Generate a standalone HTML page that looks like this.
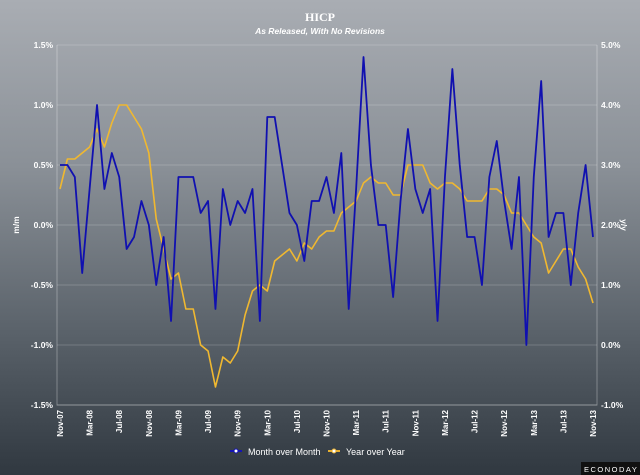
<!DOCTYPE html>
<html><head><meta charset="utf-8"><style>
html,body{margin:0;padding:0;width:640px;height:475px;overflow:hidden}
body{background:linear-gradient(#a9adb3 0%,#8a9097 35%,#5a626a 70%,#303840 100%);font-family:"Liberation Sans",sans-serif}
svg{position:absolute;left:0;top:0}
</style></head><body>
<svg id="chart" width="640" height="475">
<text x="320" y="21" text-anchor="middle" fill="#fff" font-family="Liberation Serif,serif" font-weight="bold" font-size="12">HICP</text>
<text x="320" y="34" text-anchor="middle" fill="#fff" font-weight="bold" font-style="italic" font-size="8.5">As Released, With No Revisions</text>
<g id="grid"></g><g id="axes"></g><g id="series"></g>
<text transform="translate(19,225) rotate(-90)" text-anchor="middle" fill="#fff" font-weight="bold" font-size="8.5">m/m</text>
<text transform="translate(621,225) rotate(90)" text-anchor="middle" fill="#fff" font-weight="bold" font-size="8.5">y/y</text>
<g>
<g><line x1="230" y1="451" x2="242" y2="451" stroke="#1414b4" stroke-width="2"/><circle cx="236" cy="451" r="2" fill="#fff" stroke="#1414b4"/><text x="248" y="455" fill="#fff" font-size="9">Month over Month</text></g>
<g><line x1="328" y1="451" x2="340" y2="451" stroke="#e8b030" stroke-width="2"/><circle cx="334" cy="451" r="2" fill="#fff" stroke="#e8b030"/><text x="346" y="455" fill="#fff" font-size="9">Year over Year</text></g>
</g>
<rect x="581" y="462" width="59" height="13" fill="#111"/>
<text x="584" y="472" fill="#fff" font-size="7.5" letter-spacing="1.5">ECONODAY</text>
</svg>
<script>
const mom=[0.5,0.5,0.4,-0.4,0.3,1.0,0.3,0.6,0.4,-0.2,-0.1,0.2,0.0,-0.5,-0.1,-0.8,0.4,0.4,0.4,0.1,0.2,-0.7,0.3,0.0,0.2,0.1,0.3,-0.8,0.9,0.9,0.5,0.1,0.0,-0.3,0.2,0.2,0.4,0.1,0.6,-0.7,0.3,1.4,0.5,0.0,0.0,-0.6,0.2,0.8,0.3,0.1,0.3,-0.8,0.4,1.3,0.5,-0.1,-0.1,-0.5,0.4,0.7,0.2,-0.2,0.4,-1.0,0.4,1.2,-0.1,0.1,0.1,-0.5,0.1,0.5,-0.1];
const yoy=[2.6,3.1,3.1,3.2,3.3,3.6,3.3,3.7,4.0,4.0,3.8,3.6,3.2,2.1,1.6,1.1,1.2,0.6,0.6,0.0,-0.1,-0.7,-0.2,-0.3,-0.1,0.5,0.9,1.0,0.9,1.4,1.5,1.6,1.4,1.7,1.6,1.8,1.9,1.9,2.2,2.3,2.4,2.7,2.8,2.7,2.7,2.5,2.5,3.0,3.0,3.0,2.7,2.6,2.7,2.7,2.6,2.4,2.4,2.4,2.6,2.6,2.5,2.2,2.2,2.0,1.8,1.7,1.2,1.4,1.6,1.6,1.3,1.1,0.7];
const xLabels=["Nov-07","Mar-08","Jul-08","Nov-08","Mar-09","Jul-09","Nov-09","Mar-10","Jul-10","Nov-10","Mar-11","Jul-11","Nov-11","Mar-12","Jul-12","Nov-12","Mar-13","Jul-13","Nov-13"];
const leftTicks=[1.5,1.0,0.5,0.0,-0.5,-1.0,-1.5];
const rightTicks=[5.0,4.0,3.0,2.0,1.0,0.0,-1.0];
const NS="http://www.w3.org/2000/svg";
const L=57,R=597,T=45,B=405;
const x=i=>60+i*(593-60)/72;
const yl=v=>T+(1.5-v)*(B-T)/3;
const yr=v=>T+(5-v)*(B-T)/6;
function mk(tag,attrs,parent){const e=document.createElementNS(NS,tag);for(const k in attrs)e.setAttribute(k,attrs[k]);parent.appendChild(e);return e;}
const grid=document.getElementById('grid'),axes=document.getElementById('axes'),series=document.getElementById('series');
leftTicks.forEach(v=>{
  const g=mk('line',{x1:L,x2:R,y1:yl(v),y2:yl(v),stroke:'rgba(255,255,255,0.18)','stroke-width':1},grid);
  
  
  const t=mk('text',{x:L-4,y:yl(v)+3,'text-anchor':'end',fill:'#fff','font-size':8.5,'font-weight':'bold'},axes);
  t.textContent=v.toFixed(1)+'%';
  
  
});
rightTicks.forEach(v=>{
  const t=mk('text',{x:R+4,y:yr(v)+3,fill:'#fff','font-size':8.5,'font-weight':'bold'},axes);
  t.textContent=v.toFixed(1)+'%';
  
  
});
const ax=mk('path',{d:`M${L},${T}V${B}H${R}V${T}`,fill:'none',stroke:'rgba(255,255,255,0.3)'},axes);


xLabels.forEach((lab,k)=>{
  const xx=x(k*4)+3;
  const t=mk('text',{transform:`translate(${xx},${B+5}) rotate(-90)`,'text-anchor':'end',fill:'#fff','font-size':8,'font-weight':'bold'},axes);
  t.textContent=lab;
  
  
});
const py=mk('polyline',{points:yoy.map((v,i)=>x(i)+','+yr(v)).join(' '),fill:'none',stroke:'#f0b830','stroke-width':1.6,'stroke-linejoin':'round'},series);


const pm=mk('polyline',{points:mom.map((v,i)=>x(i)+','+yl(v)).join(' '),fill:'none',stroke:'#1010b0','stroke-width':1.8,'stroke-linejoin':'round'},series);


</script>
</body></html>
